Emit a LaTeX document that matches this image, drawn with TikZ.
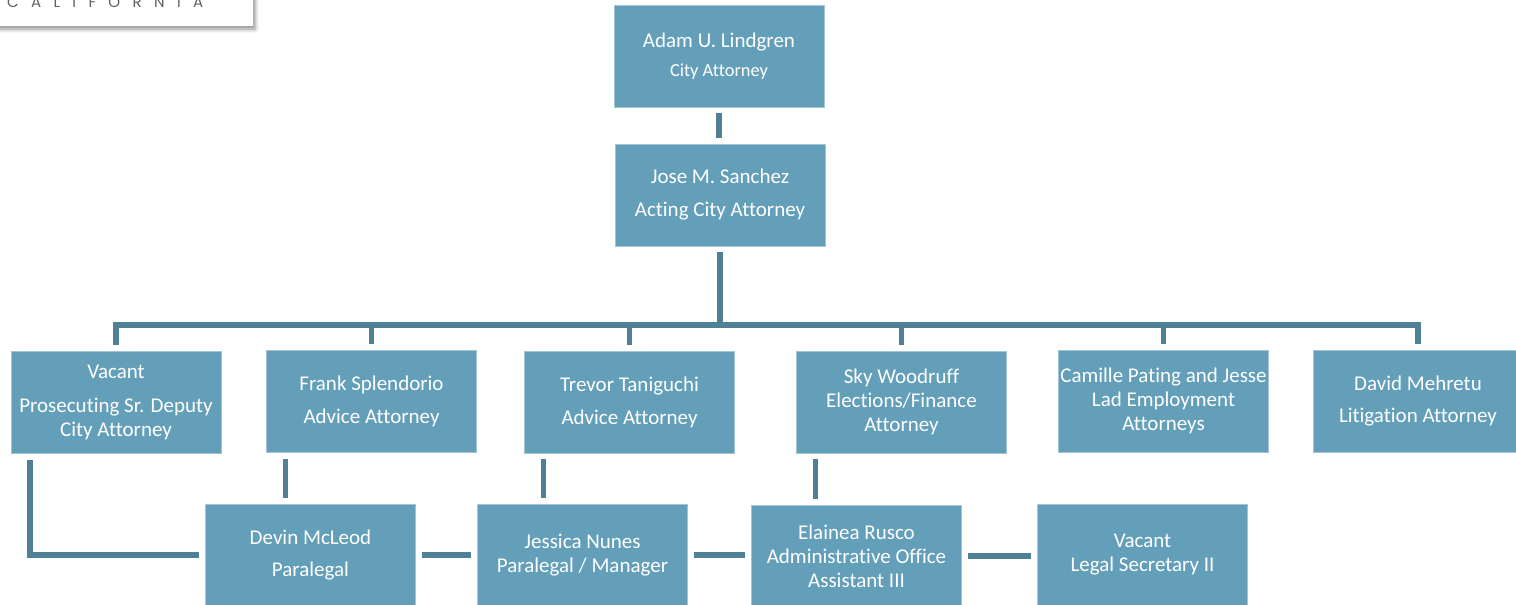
\documentclass[tikz,border=0pt]{standalone}
\usepackage{fontspec}
\setmainfont{Carlito}[Ligatures=NoCommon]
\newfontfamily\logofont{Poppins}
\usetikzlibrary{shadows.blur}
\definecolor{boxcol}{RGB}{99,159,185}
\definecolor{linecol}{RGB}{80,128,150}
\definecolor{logogrey}{RGB}{95,95,95}
\tikzset{
  posbox/.style={rectangle, fill=boxcol, draw=boxcol!60!white, line width=0.8pt,
    minimum width=210pt, minimum height=102pt, inner sep=0pt, text=white,
    align=center, font=\fontsize{21}{24}\selectfont},
  conn/.style={draw=linecol, line width=5.5pt},
  gapline/.style={conn, shorten <=6pt, shorten >=6pt},
}
\begin{document}
\begin{tikzpicture}[x=1pt,y=-1pt]
\useasboundingbox (0,0) rectangle (1516,605);
% logo fragment
\node[rectangle, fill=white, minimum width=263pt, minimum height=46pt, inner sep=0pt,
  blur shadow={shadow xshift=2pt, shadow yshift=-3pt, shadow blur radius=4pt, shadow opacity=45}]
  (logo) at (121.5,3) {};
\node[anchor=base west, inner sep=0pt, text=logogrey, font=\logofont\fontsize{15}{15}\selectfont]
  (logotext) at (7,8) {\hbox to 196pt{C\hfil A\hfil L\hfil I\hfil F\hfil O\hfil R\hfil N\hfil I\hfil A}};
% positions
\node[posbox] (adam) at (719,56) {Adam U. Lindgren\\[5pt]{\fontsize{18.4}{22}\selectfont City Attorney}};
\node[posbox] (jose) at (720,195) {Jose M. Sanchez\\[9pt]Acting City Attorney};
\node[posbox] (vac1) at (116,402) {Vacant\\[10pt]Prosecuting Sr. Deputy\\City Attorney};
\node[posbox] (frank) at (371.5,401.5) {Frank Splendorio\\[9pt]Advice Attorney};
\node[posbox] (trevor) at (629.5,402) {Trevor Taniguchi\\[9pt]Advice Attorney};
\node[posbox] (sky) at (901.5,402) {Sky Woodruff\\Elections/Finance\\Attorney};
\node[posbox] (camille) at (1163.5,401) {Camille Pating and Jesse\\Lad Employment\\Attorneys};
\node[posbox] (david) at (1418,401) {David Mehretu\\[8pt]Litigation Attorney};
\node[posbox] (devin) at (310.5,555) {Devin McLeod\\[8pt]Paralegal};
\node[posbox] (jessica) at (582.5,555) {Jessica Nunes\\Paralegal / Manager};
\node[posbox] (elainea) at (856.5,556) {Elainea Rusco\\Administrative Office\\Assistant III};
\node[posbox] (legal) at (1142.5,555) {Vacant\\Legal Secretary II};
% top connectors
\coordinate (bus) at (719,325);
\draw[gapline] (adam.south) -- (adam.south |- jose.north);
\draw[conn, shorten <=6pt] (jose.south) -- (jose.south |- bus);
\draw[conn, shorten <=6pt, shorten >=6pt] (vac1.north) |- (bus) -| (david.north);
\foreach \n in {frank,trevor,sky,camille}
  \draw[conn, shorten <=6pt] (\n.north) -- (\n.north |- bus);
% lower connectors
\coordinate (v1) at ([xshift=-86pt]vac1.south);
\draw[conn, shorten <=7pt, shorten >=6pt] (v1) |- (devin.west);
\coordinate (f1) at ([xshift=-86pt]frank.south);
\draw[gapline] (f1) -- (f1 |- devin.north);
\coordinate (t1) at ([xshift=-86pt]trevor.south);
\draw[gapline] (t1) -- (t1 |- jessica.north);
\coordinate (s1) at ([xshift=-86pt]sky.south);
\draw[gapline] (s1) -- (s1 |- elainea.north);
\draw[gapline] (devin.east) -- (devin.east -| jessica.west);
\draw[gapline] (jessica.east) -- (jessica.east -| elainea.west);
\draw[gapline] (elainea.east) -- (elainea.east -| legal.west);
\end{tikzpicture}
\end{document}
